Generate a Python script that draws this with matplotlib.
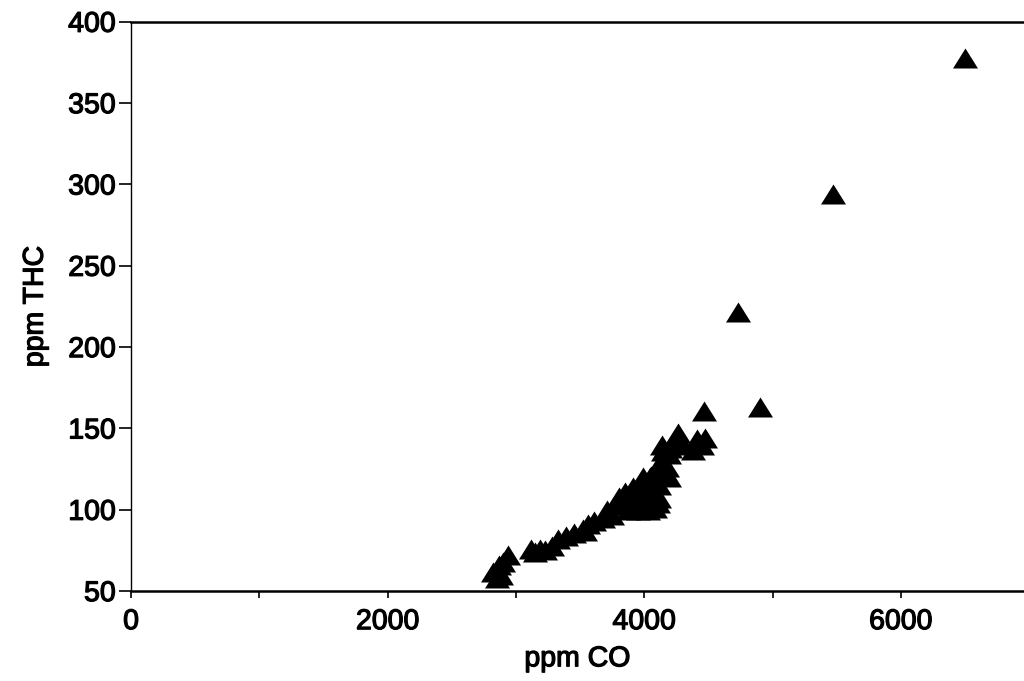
## scatter of THC vs CO concentration
import numpy as np
import matplotlib
matplotlib.use("Agg")
import matplotlib.pyplot as plt
import matplotlib.patheffects as pe

## values (ppm CO, ppm THC)
co_low = [2820, 2850, 2880, 2870, 2900, 2940]
thc_low = [62, 58, 60, 66, 68, 72]

co_mid = [3120, 3150, 3190, 3230, 3280, 3330, 3390, 3450, 3520, 3560, 3540, 3610, 3680, 3710, 3750]
thc_mid = [76, 74, 76, 75, 78, 82, 84, 86, 88, 91, 87, 93, 95, 100, 97]

co_clump = [3780, 3800, 3850, 3880, 3910, 3930, 3870, 3950, 3990, 4030, 4080, 4110, 4116,
            3960, 4000, 4040, 4080, 4116, 4050, 4100, 4150, 4181, 4194, 4127, 4193, 4150,
            4142, 4200, 4264, 4230, 4300, 4411, 4474, 4454, 4380, 4020, 3990, 4045]
thc_clump = [103, 108, 111, 105, 114, 112, 100, 100, 103, 100, 101, 104, 107,
             108, 110, 113, 118, 115, 121, 125, 128, 126, 120, 130, 134, 136,
             140, 138, 147, 143, 140, 143.5, 144, 140, 137, 117, 120, 120]

co_high = [4466, 4731, 4903, 5472, 6500]
thc_high = [160.7, 221.5, 163, 294, 377.7]

co = co_low + co_mid + co_clump + co_high
thc = thc_low + thc_mid + thc_clump + thc_high

xticks = [0, 2000, 4000, 6000]
yticks = [50, 100, 150, 200, 250, 300, 350, 400]

plt.rcParams['font.family'] = ['Liberation Sans', 'DejaVu Sans']

fig = plt.figure(figsize=(10.24, 6.81), dpi=100)
ax = fig.add_axes([0.128, 0.132, 0.872, 0.836])

## wide flat triangle marker
tri = [(-1.25, -1.0), (1.25, -1.0), (0.0, 1.0)]
ax.scatter(co, thc, marker=tri, s=18**2, color='black', linewidths=0, zorder=3)

ax.set_xlim(0, 6960)
ax.set_ylim(50, 400)
ax.set_xticks(xticks)
ax.set_xticks([1000, 3000, 5000], minor=True)
ax.set_yticks(yticks)
ax.tick_params(axis='both', which='both', direction='out', width=1.2,
               labelsize=20.5, colors='black')
ax.tick_params(axis='x', which='both', length=5, pad=8)
ax.tick_params(axis='y', length=9, pad=2)

ax.spines['right'].set_visible(False)
ax.spines['bottom'].set_linewidth(1.8)
ax.spines['top'].set_linewidth(1.8)
ax.spines['left'].set_linewidth(1.0)

ax.set_xlabel("ppm CO", fontsize=20.5, labelpad=8)
ax.set_ylabel("ppm THC", fontsize=20.5, labelpad=14)

## heavier strokes like the scanned original
thick = [pe.withStroke(linewidth=0.9, foreground='black')]
for t in ax.get_xticklabels() + ax.get_yticklabels():
    t.set_path_effects(thick)
ax.xaxis.label.set_path_effects(thick)
ax.yaxis.label.set_path_effects(thick)

fig.savefig("out.png", dpi=100)
